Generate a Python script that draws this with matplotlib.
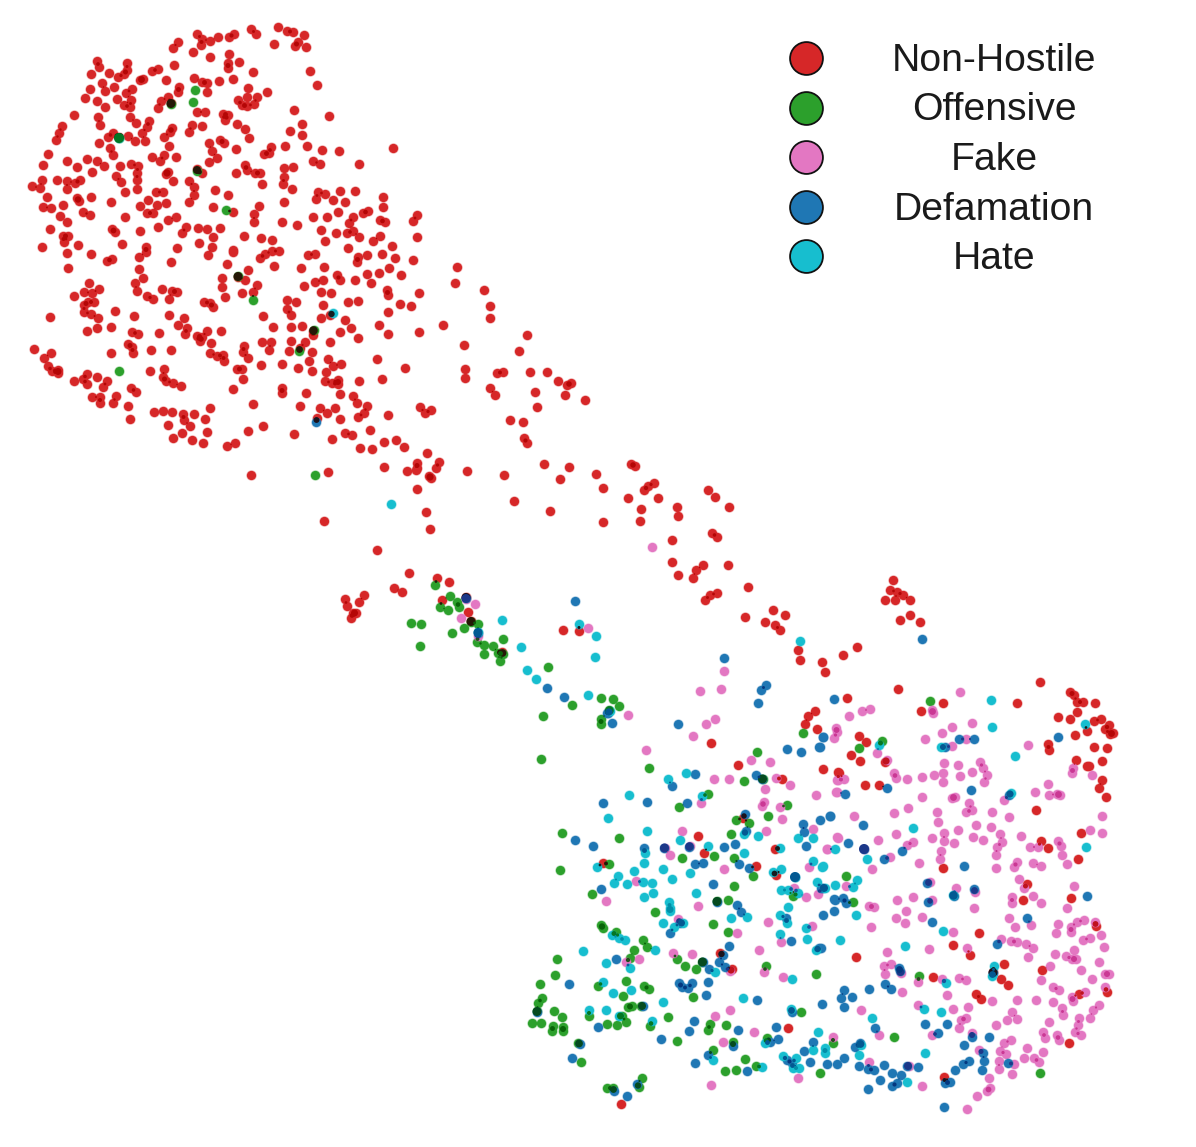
# t-SNE scatter of the five classes
import numpy as np
import matplotlib.pyplot as plt
from matplotlib.colors import to_rgb, to_rgba

labels = ['Non-Hostile', 'Offensive', 'Fake', 'Defamation', 'Hate']
colours = ['#d62728', '#2ca02c', '#e377c2', '#1f77b4', '#17becf']

non_hostile = [(97,61),(99,67),(91,74),(109,73),(127,63),(127,70),(124,74),(118,77),(102,83),(114,87),(105,91),(90,89),(85,98),(97,101),(105,107),(117,99),(126,93),(132,89),(131,100),(124,105),(130,107),(140,80),(143,79),(152,71),(158,69),(166,80),(174,65),(173,48),(178,42),(193,52),(197,34),(201,45),(202,39),(210,41),(218,37),(229,37),(234,34),(251,29),(256,34),(278,27),(287,31),(293,32),(304,35),(298,42),(295,46),(306,47),(274,44),(210,57),(229,54),(228,63),(228,68),(239,62),(253,72),(310,71),(317,85),(194,78),(202,82),(207,83),(219,81),(233,79),(179,87),(178,92),(207,92),(168,97),(161,101),(158,108),(171,103),
    (197,112),(205,112),(223,114),(228,115),(225,120),(238,100),(247,97),(248,88),(257,97),(267,92),(242,105),(247,106),(254,104),(294,110),(329,116),(302,124),(290,131),(302,135),(393,148),(74,115),(98,117),(100,125),(62,126),(59,133),(56,140),(130,117),(136,123),(149,121),(147,127),(142,133),(113,133),(108,137),(99,143),(128,136),(135,141),(145,141),(110,148),(113,155),(119,137),
    (172,128),(170,132),(192,125),(202,126),(189,132),(164,137),(169,146),(237,124),(245,129),(249,138),(209,143),(220,140),(224,143),(212,151),(217,158),(209,162),(236,149),(285,146),(271,147),(269,153),(264,154),(307,146),(322,150),(339,151),(313,161),(320,164),(359,164),(197,169),
    (48,154),(43,165),(67,161),(77,167),(87,159),(97,161),(104,166),(120,166),(131,164),(138,166),(92,172),(116,176),(121,182),(137,173),(137,180),(137,189),(152,157),(160,161),(164,155),(176,157),(166,174),(168,172),(173,181),(189,181),(194,187),(194,195),(189,202),(202,173),
    (245,165),(247,170),(236,173),(255,173),(260,173),(262,184),(284,168),(293,167),(284,177),(283,184),(292,189),(284,202),
    (32,186),(42,180),(40,188),(57,180),(67,181),(67,189),(75,183),(80,180),(47,197),(43,207),(51,208),(63,205),(77,198),(79,201),(91,197),(111,202),(125,192),(60,216),(67,222),(83,212),(90,215),(125,217),(50,229),(112,229),(115,232),(140,231),(63,236),(68,236),(64,242),(78,245),(42,247),(122,244),(146,247),(177,248),
    (156,192),(163,192),(148,200),(140,206),(157,205),(166,203),(147,213),(153,213),(176,217),(168,220),(158,227),
    (215,190),(228,195),(213,207),(233,212),(259,206),(254,214),(254,222),(220,228),(186,227),(182,233),(198,228),(207,229),(213,237),(199,243),(212,247),(244,236),(261,238),(272,240),(282,222),(297,225),(233,250),
    (318,192),(325,194),(316,199),(340,191),(355,191),(333,200),(345,202),(338,212),(383,197),(383,207),(417,215),(413,221),(368,211),(363,213),(353,217),(349,223),(327,217),(313,217),(321,230),(336,233),(347,233),(359,237),(353,231),(380,220),(385,222),(380,236),(373,241),(325,241),(392,246),(417,237),(348,248),
    (67,253),(91,254),(107,261),(112,259),(68,268),(139,257),(146,252),(171,262),(139,269),(208,255),(233,252),(227,264),(260,258),(265,254),(272,251),(279,251),(274,266),(308,255),(315,254),(301,268),(324,267),(358,257),(367,255),(357,262),(382,254),(395,258),(389,268),(413,260),(401,275),(379,273),(367,274),(371,283),(355,280),(337,275),(340,280),(323,280),(315,282),(304,286),(331,293),(321,292),(387,290),(388,295),(419,293),(358,301),(348,302),(400,304),(411,306),(388,312),(323,305),(345,320),(321,318),(379,325),(388,334),(419,332),(351,328),(340,332),(358,338),(330,342),(330,315),
    (135,283),(143,278),(137,291),(147,296),(153,299),(162,289),(172,291),(177,292),(169,299),(89,283),(84,292),(92,293),(99,289),(74,296),(88,302),(94,302),(84,305),(84,312),(91,314),(115,311),(50,317),(98,318),(97,328),(87,331),(111,327),(134,316),(132,332),(138,334),(159,333),(169,315),(184,318),(178,325),(187,328),(185,334),(197,336),(202,337),(207,331),(200,341),(221,331),(211,343),
    (222,278),(222,287),(225,297),(204,302),(210,303),(213,307),(242,293),(245,280),(248,270),(253,292),(257,285),(238,277),(287,300),(296,302),(287,309),(291,315),(263,316),(273,327),(291,327),(302,326),(262,342),(271,342),(269,350),(291,341),(305,342),(313,335),(313,331),(289,351),(312,352),(300,348),
    (128,344),(132,347),(133,353),(111,353),(151,350),(171,350),(34,349),(51,353),(44,358),(48,366),(52,371),(58,370),(58,373),(74,381),(83,379),(87,374),(87,384),(97,377),(107,381),(103,387),(92,397),(100,397),(100,403),(116,396),(113,403),(128,406),(130,419),(131,388),(136,392),(150,371),(164,369),(163,377),(166,381),(173,383),(181,386),(210,353),(217,356),(223,355),(224,361),(244,346),(243,352),(248,358),(237,369),(242,369),(243,379),(233,389),(261,365),(282,364),(298,368),(309,361),(312,371),(328,359),(333,366),(341,364),(326,372),(377,359),(405,368),(382,379),(359,381),(325,381),(332,383),(338,380),(338,384),(282,388),(282,393),(306,393),(340,394),(353,396),(357,403),(367,406),(364,413),(358,417),(388,415),(420,407),
    (253,404),(300,406),(320,408),(335,408),(327,413),(317,418),(340,419),(154,412),(163,411),(172,412),(183,414),(194,414),(210,408),(205,419),(184,420),(168,425),(190,426),(182,433),(207,432),(173,438),(192,440),(203,443),(227,446),(235,443),(248,431),(263,426),(294,434),(332,439),(345,433),(352,435),(370,430),(360,448),(372,449),(384,442),(396,440),(404,447),(384,467),(407,471),(417,468),(417,463),(251,475),(328,472),
    (457,267),(455,283),(484,290),(490,306),(490,318),(443,325),(464,345),(527,335),(519,351),(465,369),(465,378),(497,373),(503,372),(490,388),(495,395),(530,372),(547,372),(558,381),(567,385),(571,383),(565,395),(585,400),(535,392),(537,407),(510,420),(523,422),(524,438),(527,443),(431,410),(425,413),
    (416,470),(439,462),(436,468),(429,476),(431,478),(427,453),(467,471),(504,475),(544,464),(569,467),(560,479),(596,474),(603,488),(631,464),(635,466),(654,483),(648,486),(644,490),(628,498),(658,498),(641,509),(640,521),(603,522),(550,511),(514,501),(417,489),(426,512),(430,529),(324,521),(377,550),(409,573),(394,588),(402,592),(437,578),(449,582),(442,600),(466,597),(468,612),(471,621),(502,652),(345,599),(347,606),(359,602),(364,595),(356,613),(353,613),(351,618),(563,630),(579,631),
    (672,540),(672,562),(677,507),(678,516),(712,533),(717,537),(729,507),(708,490),(715,497),(678,575),(693,578),(703,565),(696,570),(728,565),(748,587),(710,595),(717,593),(705,600),(745,617),(773,610),(765,622),(775,625),(785,615),(780,630),(798,650),(800,660),(822,662),(825,672),(843,655),(857,647),(893,580),(890,590),(897,592),(903,595),(885,600),(895,600),(900,620),(910,615),(920,622),(910,600),
    (711,743),(738,765),(782,779),(756,866),(698,836),(704,853),(775,849),(776,875),(603,863),(743,818),(823,769),(838,772),(817,729),(805,724),(808,716),(815,711),
    (1040,682),(898,689),(847,698),(943,703),(921,711),(1017,703),(1070,692),(1074,695),(1083,702),(1077,702),(1095,703),(1077,712),(1058,717),(1070,719),(1094,721),(1101,719),(1087,731),(1075,735),(1105,729),(1109,725),(1113,733),(1110,734),(1048,744),(1049,750),(1094,747),(1107,748),(1076,760),(1102,761),(1087,766),(1089,766),(1102,780),(1099,788),(1106,797),(1036,810),(859,736),(866,742),(851,755),(860,761),(885,762),(839,773),(865,785),(879,785),(1081,833),(1041,841),(1048,848),(1078,859),(1027,884),(1023,900),(1071,898),(943,868),
    (720,953),(732,969),(788,1028),(621,1104),(856,957),(979,933),(953,945),(970,955),(1004,964),(1001,979),(1008,985),(933,977),(976,994),(981,999),(1042,970),(1079,994),(1107,992),(1096,926),(1069,1043),(944,1077),(993,972)]

offensive = [(195,90),(193,102),(171,104),(119,138),(197,171),(226,210),(238,276),(253,300),(314,330),(299,351),(119,371),(315,475),
    (435,585),(450,596),(457,602),(459,607),(440,607),(448,610),(471,622),(478,624),(464,628),(411,623),(421,624),(452,633),(420,646),(503,639),(477,642),(484,645),(493,646),(484,654),(498,653),(503,654),(500,661),(548,667),(572,705),(543,716),(601,698),(613,699),(619,706),(609,710),(601,719),(601,724),
    (541,759),(649,768),(562,833),(619,838),(560,870),(592,894),(609,864),(757,752),(803,733),(744,781),(763,779),(708,794),(679,807),(787,805),(768,816),(736,820),(749,823),(731,834),(682,858),(714,856),(734,858),(753,876),(734,886),(717,901),(728,900),(793,896),(655,912),
    (930,701),(859,748),(882,741),(846,876),(853,902),
    (601,925),(603,928),(616,932),(643,940),(647,947),(634,950),(630,958),(713,924),(728,932),(677,959),(685,966),(696,969),(702,962),(766,966),(816,974),(557,959),(555,975),(540,984),(542,998),(538,1003),(537,1011),(532,1023),(541,1023),(554,1011),(562,1017),(553,1026),(552,1031),(563,1027),(563,1031),(598,986),(626,981),(644,986),(649,989),(623,996),(628,1007),(632,1006),(641,1006),(589,1016),(622,1016),(607,1024),(617,1025),(626,1022),(650,1026),(668,1017),(693,997),(677,1041),(710,1024),(708,1030),(726,1025),(733,1042),(713,1050),(745,1059),(756,1066),(736,1070),(725,1071),(767,1038),(801,1012),(820,1073),(578,1043),(581,1062),(607,1088),(613,1088),(642,1078),(639,1087),
    (919,976),(894,1037),(833,1043),(1040,1073)]

fake = [(652,547),(475,604),(461,618),(478,636),(466,599),(588,628),(628,715),(646,750),(700,691),(721,689),(724,671),
    (706,724),(715,719),(693,736),(751,760),(770,762),(714,779),(729,779),(776,778),(790,785),(765,789),(701,803),(764,802),(762,806),(780,807),(782,819),(766,831),(813,829),(816,795),(837,780),(836,792),(836,728),(834,738),(837,837),(827,849),(809,867),(682,831),(690,846),(670,855),(724,869),(636,881),(606,901),(698,906),(794,888),(806,897),(818,894),(665,848),
    (960,692),(849,716),(862,711),(870,709),(932,710),(933,713),(837,732),(972,723),(952,727),(942,733),(925,739),(966,739),(952,746),(1028,745),(877,753),(887,760),(944,763),(958,765),(980,762),(983,768),(987,775),(972,772),(934,775),(943,773),(960,776),(943,782),(922,777),(907,779),(894,773),(896,778),(984,782),(838,780),(844,779),(837,792),(922,797),(952,798),(955,797),(908,808),(894,813),(969,803),(966,812),(972,810),(937,812),(938,822),(992,812),(1009,817),(1004,800),(1048,784),(1035,792),(1049,795),(1057,794),(1060,795),(1073,768),(1072,773),(1092,775),(1102,816),(1090,830),(1102,833),(854,816),(838,838),(878,840),(896,834),(913,842),(907,845),(932,838),(944,833),(944,841),(958,830),(954,843),(976,825),(991,827),(1000,834),(973,837),(983,840),(1002,842),(997,847),(996,855),(1021,836),(1030,847),(1038,847),(1058,841),(1061,846),(1062,855),(1067,864),(1033,863),(1041,866),(1017,862),(1014,867),(996,868),(941,851),(940,859),(919,863),(890,857),(872,869),(827,849),(864,849),(1019,879),(1024,888),(1074,886),(1033,896),(956,888),(975,892),(930,882),(897,900),(913,897),(932,900),(1041,903),(846,886),(1012,897),(1012,903),(869,906),(874,907),(1067,908),(974,908),
    (768,922),(678,919),(737,933),(812,926),(781,942),(759,950),(692,954),(673,953),(639,959),(626,962),(730,971),(764,972),(783,977),(715,1016),(730,1010),(754,1032),(723,1042),(798,1078),(711,1085),(833,1037),
    (906,911),(896,918),(905,923),(922,917),(871,927),(953,932),(1009,918),(1015,927),(1031,925),(1058,924),(1056,933),(1071,927),(1071,932),(1084,920),(1077,922),(1095,922),(1101,935),(1090,938),(1083,940),(1104,947),(929,949),(887,952),(967,948),(1001,939),(1011,941),(1017,942),(1026,944),(1033,948),(1028,957),(1055,954),(1074,950),(1066,956),(1072,959),(1076,959),(1099,962),(1050,966),(884,966),(891,964),(885,974),(901,973),(1081,970),(1092,979),(1041,980),(1105,974),(1109,974),(942,979),(918,982),(959,978),(966,980),(1053,987),(1059,990),(1105,987),(1085,992),(1072,997),(902,992),(947,995),(992,1001),(1017,1000),(1036,1000),(1053,1002),(1073,1001),(918,1005),(861,1010),(953,1009),(968,1007),(1099,1005),(1093,1010),(1062,1008),(1063,1015),(1012,1012),(1007,1020),(1017,1019),(966,1018),(961,1020),(959,1028),(996,1025),(1049,1022),(1079,1018),(1090,1018),(1078,1025),(1043,1032),(1075,1032),(1081,1035),(1057,1035),(1045,1038),(1059,1040),(932,1035),(972,1033),(879,1035),(1011,1040),(1004,1043),(1027,1048),(1043,1052),(1000,1051),(1006,1054),(979,1050),(1024,1058),(1034,1058),(1039,1062),(999,1061),(1014,1064),(999,1069),(1012,1074),(989,1078),(990,1088),(987,1091),(977,1096),(967,1109),(869,1062),(909,1066),(922,1086)]

defamation = [(316,422),(466,598),(478,633),(575,601),(547,688),(564,697),(607,713),(612,723),(922,639),(724,658),(766,685),(761,690),
    (678,724),(672,786),(695,774),(687,803),(756,775),(762,779),(787,749),(801,752),(819,747),(823,737),(603,803),(647,802),(593,846),(644,848),(664,848),(689,847),(724,847),(735,844),(745,814),(746,831),(803,824),(804,832),(820,820),(830,816),(806,846),(695,864),(703,863),(739,864),(749,868),(713,884),(601,889),(795,877),(821,888),(835,900),(737,905),(717,902),(758,703),(608,713),(575,840),
    (834,699),(1058,737),(959,739),(974,739),(945,747),(823,737),(820,747),(887,788),(845,794),(971,790),(1009,795),(830,816),(863,825),(848,843),(864,849),(884,859),(902,851),(964,866),(927,883),(974,889),(954,896),(928,902),(1087,896),(834,899),(843,898),(846,903),(823,888),
    (569,984),(616,959),(537,1012),(598,1027),(643,1006),(670,933),(680,923),(729,946),(723,955),(719,962),(725,967),(709,969),(703,962),(708,982),(706,995),(679,983),(682,987),(688,988),(692,983),(694,1021),(689,1031),(661,1039),(738,1030),(733,1046),(708,1055),(695,1063),(747,1071),(757,1000),(792,1012),(776,1027),(770,1042),(778,1039),(791,941),(786,918),(823,915),(834,911),(819,948),(741,912),(822,1004),(813,1042),(804,1051),(787,1060),(792,1063),(810,1062),(827,1064),(837,1064),(580,1044),(572,1058),(614,1091),(637,1084),(627,1096),
    (932,922),(1027,918),(821,948),(899,968),(900,971),(885,984),(891,989),(869,989),(844,990),(841,998),(852,997),(844,1007),(997,944),(875,1028),(925,1024),(947,1024),(938,1033),(972,1037),(989,1037),(964,1045),(860,1043),(855,1047),(844,1058),(859,1066),(868,1069),(874,1070),(884,1065),(892,1073),(901,1075),(907,1066),(918,1067),(880,1080),(892,1086),(897,1083),(868,1089),(945,1083),(950,1082),(955,1070),(963,1064),(969,1061),(982,1070),(984,1061),(983,1053),(1008,1063),(944,1107),(993,973)]

hate = [(119,138),(333,313),(391,504),(502,620),(478,632),(521,647),(527,670),(536,679),(588,695),(610,711),(579,624),(596,636),(595,657),(800,641),
    (686,773),(668,779),(629,795),(702,796),(608,818),(647,831),(680,840),(708,846),(744,853),(744,834),(758,836),(798,838),(813,838),(780,848),(835,849),(645,853),(644,863),(663,869),(634,871),(690,873),(672,879),(618,876),(614,883),(627,884),(643,882),(652,883),(597,867),(653,893),(644,897),(696,893),(669,902),(670,908),(773,872),(781,869),(795,877),(813,861),(822,867),(817,882),(835,885),(781,890),(788,890),(798,893),(825,888),(788,907),
    (991,700),(992,727),(941,747),(879,745),(1015,756),(1085,724),(1011,793),(913,828),(867,859),(823,866),(853,887),(857,880),(1086,847),(953,895),
    (583,951),(606,963),(612,935),(619,938),(625,940),(655,950),(630,968),(603,982),(613,993),(631,990),(663,1002),(589,1010),(606,1010),(619,1016),(652,1021),(663,923),(674,927),(683,923),(670,911),(731,918),(747,917),(780,915),(787,923),(806,928),(780,934),(807,939),(840,940),(816,950),(715,972),(792,979),(743,998),(791,1009),(713,1060),(762,1067),(765,1043),(818,1032),(813,1050),(825,1048),(825,1053),(783,1056),(796,1058),(793,1068),(799,1068),
    (943,931),(905,946),(856,915),(946,983),(924,1009),(941,1012),(872,1018),(994,966),(992,976),(861,1045),(859,1055),(925,1053),(907,1082)]

series = [non_hostile, offensive, fake, defamation, hate]

fig = plt.figure(figsize=(11.96, 11.47), dpi=100)
ax = fig.add_axes([0, 0, 1, 1])
ax.set_xlim(0, 1196)
ax.set_ylim(1147, 0)
ax.axis('off')

for pts, c in zip(series, colours):
    pts = np.array(pts)
    ax.scatter(pts[:, 0], pts[:, 1], s=44, color=c, linewidths=1, edgecolors=[to_rgba(c, 0.3)], zorder=2)

# the points multiply where they overlap, so darken the shared part
xy = np.vstack(series)
cls = np.concatenate([[i] * len(s) for i, s in enumerate(series)])
rgb = np.array([to_rgb(c) for c in colours])
dist = np.hypot(xy[:, None, 0] - xy[None, :, 0], xy[:, None, 1] - xy[None, :, 1])
ii, jj = np.where(np.triu(dist < 9, 1))
keep = ~((cls[ii] == cls[jj]) & (dist[ii, jj] < 2.5))
ii, jj = ii[keep], jj[keep]
mid = (xy[ii] + xy[jj]) / 2
shade = rgb[cls[ii]] * rgb[cls[jj]]
width = (10 - dist[ii, jj]) * 0.72
ax.scatter(mid[:, 0], mid[:, 1], s=width ** 2, c=shade, linewidths=0, zorder=3)

# legend, text centred in its own column
legend_x = 806
legend_text_x = 994
legend_y = np.linspace(58, 256, 5)
for y, lab, c in zip(legend_y, labels, colours):
    ax.scatter(legend_x, y, s=560, color=c, edgecolors='#111111', linewidths=1.3, zorder=4)
    ax.text(legend_text_x, y + 13, lab, ha='center', va='baseline', fontsize=28.2,
            family='Liberation Sans', color='#1a1a1a')

plt.savefig('out.png', dpi=100)
